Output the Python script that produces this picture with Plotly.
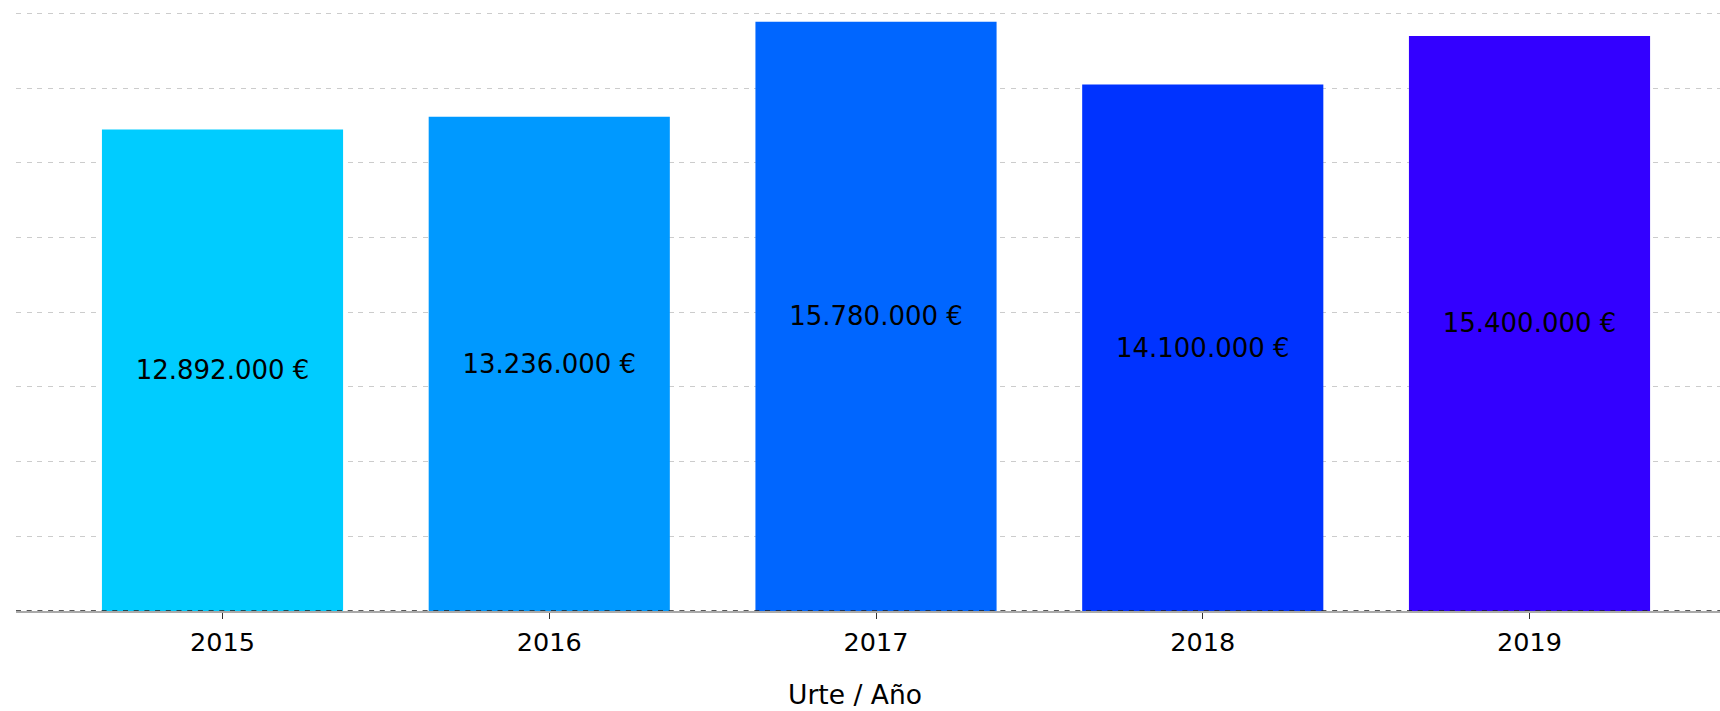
import plotly.graph_objects as go

years = ["2015", "2016", "2017", "2018", "2019"]
values = [12892000, 13236000, 15780000, 14100000, 15400000]
colors = ["#00CCFF", "#0099FF", "#0066FF", "#0033FF", "#3300FF"]
x_title = "Urte / Año"

FONT = "DejaVu Sans"

fig = go.Figure(go.Bar(
    x=years, y=values,
    marker=dict(color=colors, line=dict(width=0)),
    texttemplate="%{y:,.0f} €",
    textposition="inside",
    insidetextanchor="middle",
    textangle=0,
    textfont=dict(family=FONT, size=26, color="#000000"),
    hoverinfo="skip",
))

fig.add_shape(type="line", xref="paper", yref="y", x0=0, x1=1, y0=0, y1=0,
              line=dict(color="#222222", width=1.5, dash="5px,5.7px"), layer="above")

fig.add_annotation(text=x_title, xref="paper", yref="paper", x=0.4924, y=-0.1386,
                   xanchor="center", yanchor="middle", showarrow=False,
                   font=dict(family=FONT, size=26.5, color="#000000"))

fig.update_layout(
    width=1720, height=711,
    margin=dict(l=16, r=0, t=12, b=100),
    paper_bgcolor="white", plot_bgcolor="white",
    separators=",.",
    bargap=0.262,
    showlegend=False,
    uniformtext=dict(minsize=10, mode="show"),
    font=dict(family=FONT, size=26, color="#000000"),
    xaxis=dict(
        range=[-0.632, 4.583],
        showgrid=False, zeroline=False,
        showline=True, linecolor="#aaaaaa", linewidth=1.5,
        ticks="outside", ticklen=6, tickcolor="#333333", tickwidth=1,
        ticklabelstandoff=2,
        tickfont=dict(family=FONT, size=25.5, color="#000000"),
    ),
    yaxis=dict(
        range=[0, 16040000], dtick=2000000,
        showticklabels=False, zeroline=False,
        showgrid=True, gridcolor="#cccccc", gridwidth=1, griddash="5px,5.7px",
    ),
)

fig.write_html("out.html",
               config={"displayModeBar": False},
               post_script="document.body.style.margin='0';document.body.style.padding='0';document.body.style.overflow='hidden';")
